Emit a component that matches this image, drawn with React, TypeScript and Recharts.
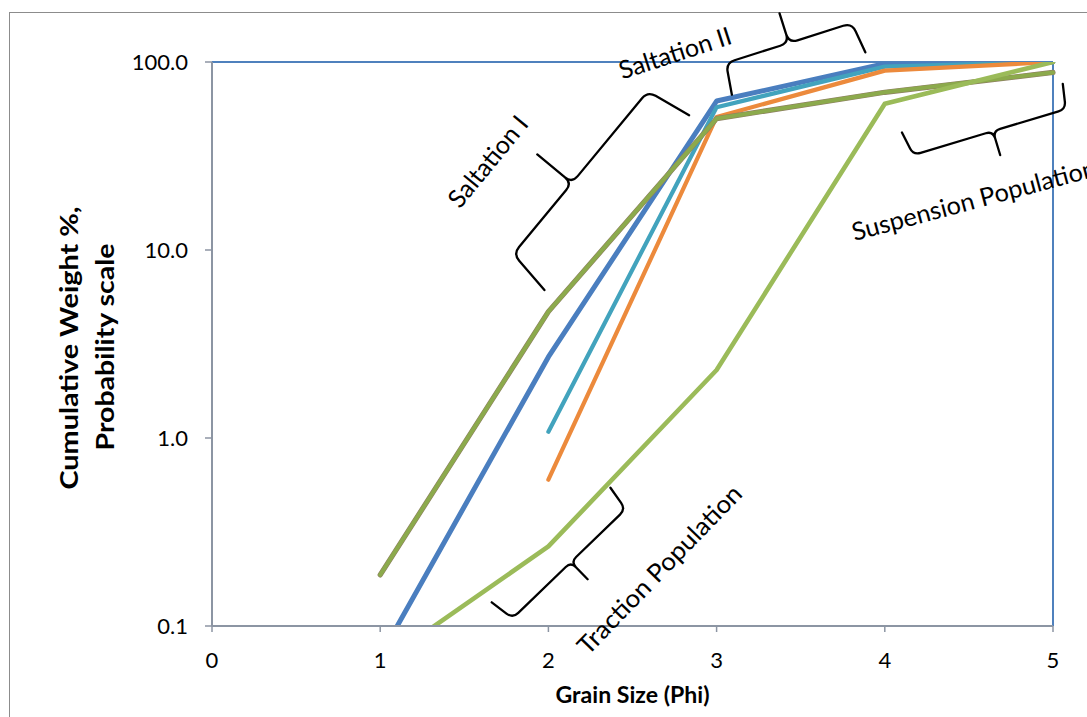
import React from 'react';
import { LineChart, Line, XAxis, YAxis, ReferenceLine, ReferenceDot } from 'recharts';

// ---- data ----
const phi = [1, 2, 3, 4, 5];
const sampleBlue = [0.069, 2.7, 62, 98, 100];
const sampleTeal = [null, 1.08, 57.5, 94.5, 100];
const sampleOrange = [null, 0.6, 51, 90, 100];
const sampleOliveA = [0.187, 4.7, 50, 69, 88];
const sampleOliveB = [0.187, 4.7, 50, 69, 88];
const sampleGreen = [0.063, 0.265, 2.3, 60, 100];
const xTicks = [0, 1, 2, 3, 4, 5];
const yTicks = [0.1, 1, 10, 100];

const table = phi.map((p, i) => ({
  phi: p,
  blue: sampleBlue[i],
  teal: sampleTeal[i],
  orange: sampleOrange[i],
  oliveA: sampleOliveA[i],
  oliveB: sampleOliveB[i],
  green: sampleGreen[i],
}));

// ---- annotations (anchored in data coordinates) ----
const braces = [
  { x: 2.14, y: 22.7, angle: -50.4, l1: 119, l2: 92, d: 47, b: 45, f: 8 },
  { x: 3.43, y: 126.2, angle: -17.6, l1: 66, l2: 66, d: 32, b: 31, f: 4 },
  { x: 4.643, y: 42.9, angle: 163.2, l1: 83, l2: 76, d: 25, b: 25, f: 4.5 },
  { x: 2.134, y: 0.219, angle: 136, l1: 81, l2: 76, d: 26, b: 24, f: 4 },
];

const notes = [
  { text: 'Saltation I', x: 1.64, y: 29.6, angle: -50.5, len: 110 },
  { text: 'Saltation II', x: 2.753, y: 111.7, angle: -18, len: 117 },
  { text: 'Suspension Population', x: 4.53, y: 18.5, angle: -15, len: 252 },
  { text: 'Traction Population', x: 2.66, y: 0.2, angle: -46, len: 224 },
];

const W = 1140;
const H = 760;
const FONT = 'Lato, "Open Sans", sans-serif';
const AXIS = '#8C95A3';

function bracePath(l1: number, l2: number, d: number, b: number, f: number) {
  const rc = Math.min(9, d * 0.3);
  const rj = Math.min(9, b * 0.3);
  const len = Math.hypot(f, d);
  const p1x = l1 + (f * rc) / len;
  const p1y = (d * rc) / len;
  const p2x = -l2 - (f * rc) / len;
  return [
    `M${l1 + f},${d}`,
    `L${p1x},${p1y}`,
    `Q${l1},0 ${l1 - rc},0`,
    `L${rj},0`,
    `Q0,0 0,${-rj}`,
    `L0,${-b}`,
    `M0,${-rj}`,
    `Q0,0 ${-rj},0`,
    `L${-l2 + rc},0`,
    `Q${-l2},0 ${p2x},${p1y}`,
    `L${-l2 - f},${d}`,
  ].join(' ');
}

const YTitle = () => (
  <g>
    <text
      x={78}
      y={348}
      transform="rotate(-90 78 348)"
      textAnchor="middle"
      fontFamily={FONT}
      fontWeight={700}
      fontSize={25}
      textLength={283}
      lengthAdjust="spacingAndGlyphs"
      fill="#000"
    >
      Cumulative Weight %,
    </text>
    <text
      x={114}
      y={347}
      transform="rotate(-90 114 347)"
      textAnchor="middle"
      fontFamily={FONT}
      fontWeight={700}
      fontSize={25}
      textLength={207}
      lengthAdjust="spacingAndGlyphs"
      fill="#000"
    >
      Probability scale
    </text>
  </g>
);

const XTitle = () => (
  <text
    x={632.5}
    y={703}
    textAnchor="middle"
    fontFamily={FONT}
    fontWeight={700}
    fontSize={22}
    textLength={154}
    lengthAdjust="spacingAndGlyphs"
    fill="#000"
  >
    Grain Size (Phi)
  </text>
);

export default function App() {
  return (
    <div
      style={{
        position: 'absolute',
        left: 0,
        top: 0,
        width: 1087,
        height: 717,
        overflow: 'hidden',
        background: '#fff',
      }}
    >
      <div
        style={{
          position: 'absolute',
          left: 8.5,
          top: 11.5,
          width: 2000,
          height: 2000,
          border: '1.5px solid #8c8c8c',
        }}
      />
      <div style={{ position: 'absolute', left: 0, top: 0 }}>
        <LineChart
          width={W}
          height={H}
          data={table}
          margin={{ top: 62, right: W - 1053, left: 132, bottom: H - 626 - 90 }}
        >
          <XAxis
            dataKey="phi"
            type="number"
            domain={[0, 5]}
            ticks={xTicks}
            height={90}
            tickSize={6}
            tickMargin={20}
            axisLine={{ stroke: AXIS, strokeWidth: 2 }}
            tickLine={{ stroke: AXIS, strokeWidth: 1.5 }}
            tick={{ fill: '#000', fontSize: 22, fontFamily: FONT }}
            label={{ content: () => <XTitle /> }}
          />
          <YAxis
            scale="log"
            domain={[0.1, 100]}
            allowDataOverflow
            ticks={yTicks}
            width={80}
            tickSize={7}
            tickMargin={17}
            tickFormatter={(v: number) => v.toFixed(1)}
            axisLine={{ stroke: AXIS, strokeWidth: 2 }}
            tickLine={{ stroke: AXIS, strokeWidth: 1.5 }}
            tick={{ fill: '#000', fontSize: 22, fontFamily: FONT }}
            label={{ content: () => <YTitle /> }}
          />
          <ReferenceLine y={100} stroke="#4F81BD" strokeWidth={2} />
          <ReferenceLine x={5} stroke="#4F81BD" strokeWidth={2} />

          <Line dataKey="blue" stroke="#4A7EBF" strokeWidth={5} dot={false} isAnimationActive={false} strokeLinecap="round" strokeLinejoin="round" />
          <Line dataKey="teal" stroke="#42A3BD" strokeWidth={4.2} dot={false} isAnimationActive={false} strokeLinecap="round" strokeLinejoin="round" />
          <Line dataKey="orange" stroke="#EC8A3C" strokeWidth={4.2} dot={false} isAnimationActive={false} strokeLinecap="round" strokeLinejoin="round" />
          <Line dataKey="oliveA" stroke="#8E8062" strokeWidth={5.2} dot={false} isAnimationActive={false} strokeLinecap="round" strokeLinejoin="round" />
          <Line dataKey="oliveB" stroke="#8CAA4C" strokeWidth={4} dot={false} isAnimationActive={false} strokeLinecap="round" strokeLinejoin="round" />
          <Line dataKey="green" stroke="#9BBB59" strokeWidth={4.6} dot={false} isAnimationActive={false} strokeLinecap="round" strokeLinejoin="round" />

          {braces.map((br, i) => (
            <ReferenceDot
              key={'b' + i}
              x={br.x}
              y={br.y}
              r={0}
              ifOverflow="visible"
              shape={(p: any) => (
                <g transform={`translate(${p.cx},${p.cy}) rotate(${br.angle})`}>
                  <path
                    d={bracePath(br.l1, br.l2, br.d, br.b, br.f)}
                    fill="none"
                    stroke="#000"
                    strokeWidth={2.3}
                    strokeLinecap="round"
                    strokeLinejoin="round"
                  />
                </g>
              )}
            />
          ))}
          {notes.map((n, i) => (
            <ReferenceDot
              key={'n' + i}
              x={n.x}
              y={n.y}
              r={0}
              ifOverflow="visible"
              shape={(p: any) => (
                <text
                  x={p.cx}
                  y={p.cy}
                  dy="0.36em"
                  textAnchor="middle"
                  transform={`rotate(${n.angle} ${p.cx} ${p.cy})`}
                  fontFamily={FONT}
                  fontSize={25}
                  textLength={n.len}
                  lengthAdjust="spacingAndGlyphs"
                  fill="#000"
                >
                  {n.text}
                </text>
              )}
            />
          ))}
        </LineChart>
      </div>
    </div>
  );
}
